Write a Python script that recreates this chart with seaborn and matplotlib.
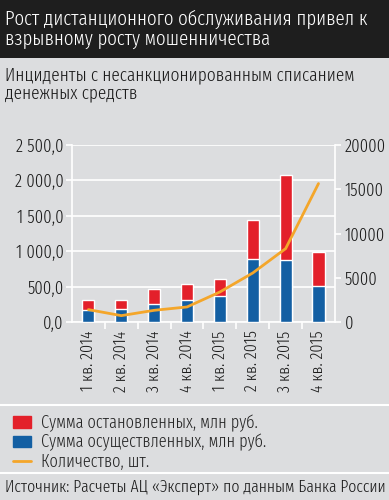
import matplotlib
matplotlib.use("Agg")
import matplotlib.pyplot as plt
from matplotlib.ticker import FuncFormatter, FixedLocator
from matplotlib.lines import Line2D
from matplotlib.patches import Rectangle
import seaborn as sns
import pandas as pd
import numpy as np

quarters = ["1 кв. 2014", "2 кв. 2014", "3 кв. 2014", "4 кв. 2014",
            "1 кв. 2015", "2 кв. 2015", "3 кв. 2015", "4 кв. 2015"]
stopped = [150, 137, 202, 226, 246, 551, 1201, 480]      # остановленные, млн руб.
done = [165, 179, 260, 316, 367, 895, 871, 504]          # осуществленные, млн руб.
count = [1400, 720, 1320, 1700, 3390, 5540, 8290, 15640]  # количество, шт.

BG = "#dcdddf"
RED = "#e3202a"
BLUE = "#135fa3"
ORANGE = "#f4a62a"
INK = "#1a1a1a"

sns.set_theme(style="white")
plt.rcParams["font.family"] = ["Fira Sans Extra Condensed", "Roboto Condensed", "DejaVu Sans"]
plt.rcParams["font.weight"] = 300

df = pd.DataFrame({"q": quarters, "done": done,
                   "total": np.add(stopped, done), "count": count})

fig = plt.figure(figsize=(3.89, 5.0), dpi=100, facecolor=BG)
fig.patches.append(Rectangle((0, 0.884), 1, 0.116, transform=fig.transFigure,
                             facecolor="#1e1e1e", edgecolor="none", zorder=0))
fig.text(0.013, 0.981, "Рост дистанционного обслуживания привел к\nвзрывному росту мошенничества",
         color="white", fontsize=14.8, va="top", ha="left", linespacing=1.05)
fig.text(0.013, 0.868, "Инциденты с несанкционированным списанием\nденежных средств",
         color=INK, fontsize=13.5, va="top", ha="left", linespacing=1.05)

ax = fig.add_axes([0.185, 0.356, 0.676, 0.354])
ax.set_facecolor(BG)
sns.barplot(data=df, x="q", y="total", color=RED, width=0.37, saturation=1, ax=ax, zorder=2)
sns.barplot(data=df, x="q", y="done", color=BLUE, width=0.37, saturation=1, ax=ax, zorder=3)
ax.set_xlim(-0.5, 7.5)
ax.set_ylim(0, 2500)
ax.set_yticks(np.arange(0, 2501, 500))
ax.yaxis.set_major_formatter(FuncFormatter(
    lambda v, p: f"{v:,.1f}".replace(",", " ").replace(".", ",")))
ax.grid(axis="y", color="white", lw=1.2, zorder=1)
ax.set_axisbelow(True)
for s in ["top", "right"]:
    ax.spines[s].set_visible(False)
for s in ["left", "bottom"]:
    ax.spines[s].set_color("white")
    ax.spines[s].set_linewidth(1.2)
ax.set_xlabel("")
ax.set_ylabel("")
ax.tick_params(axis="y", labelsize=13, colors="white", labelcolor=INK,
               length=4, width=1.2, left=True, pad=2)
ax.tick_params(axis="x", labelsize=12.5, labelcolor=INK, length=0, pad=6)
ax.set_xticks(range(len(quarters)))
ax.set_xticklabels(quarters, rotation=90, va="top")
ax.xaxis.set_minor_locator(FixedLocator(np.arange(0.5, 7, 1)))
ax.tick_params(axis="x", which="minor", bottom=True, length=5, width=1.2, colors="white")

ax2 = ax.twinx()
sns.lineplot(x=np.arange(len(quarters)), y=df["count"], color=ORANGE, lw=2, ax=ax2)
ax2.set_ylim(0, 20000)
ax2.set_yticks(np.arange(0, 20001, 5000))
ax2.set_ylabel("")
for s in ["top", "left", "bottom"]:
    ax2.spines[s].set_visible(False)
ax2.spines["right"].set_color("white")
ax2.spines["right"].set_linewidth(1.2)
ax2.tick_params(axis="y", labelsize=13, colors="white", labelcolor=INK,
                length=4, width=1.2, right=True, pad=3)

# separators
fig.add_artist(Line2D([0, 1], [0.19, 0.19], color="white", lw=1.5))
fig.add_artist(Line2D([0, 1], [0.054, 0.054], color="white", lw=1.5))

# legend
handles = [Rectangle((0, 0), 1, 1, color=RED), Rectangle((0, 0), 1, 1, color=BLUE),
           Line2D([0], [0], color=ORANGE, lw=2)]
labels = ["Сумма остановленных, млн руб.", "Сумма осуществленных, млн руб.", "Количество, шт."]
fig.legend(handles, labels, loc="upper left", bbox_to_anchor=(0.015, 0.186),
           frameon=False, fontsize=12.8, handlelength=1.0, handleheight=0.6,
           handletextpad=0.6, labelspacing=0.08, borderaxespad=0)

fig.text(0.013, 0.026, "Источник: Расчеты АЦ «Эксперт» по данным Банка России",
         fontsize=12.3, color=INK, va="center", ha="left")

fig.savefig("out.png", dpi=100, facecolor=BG)
